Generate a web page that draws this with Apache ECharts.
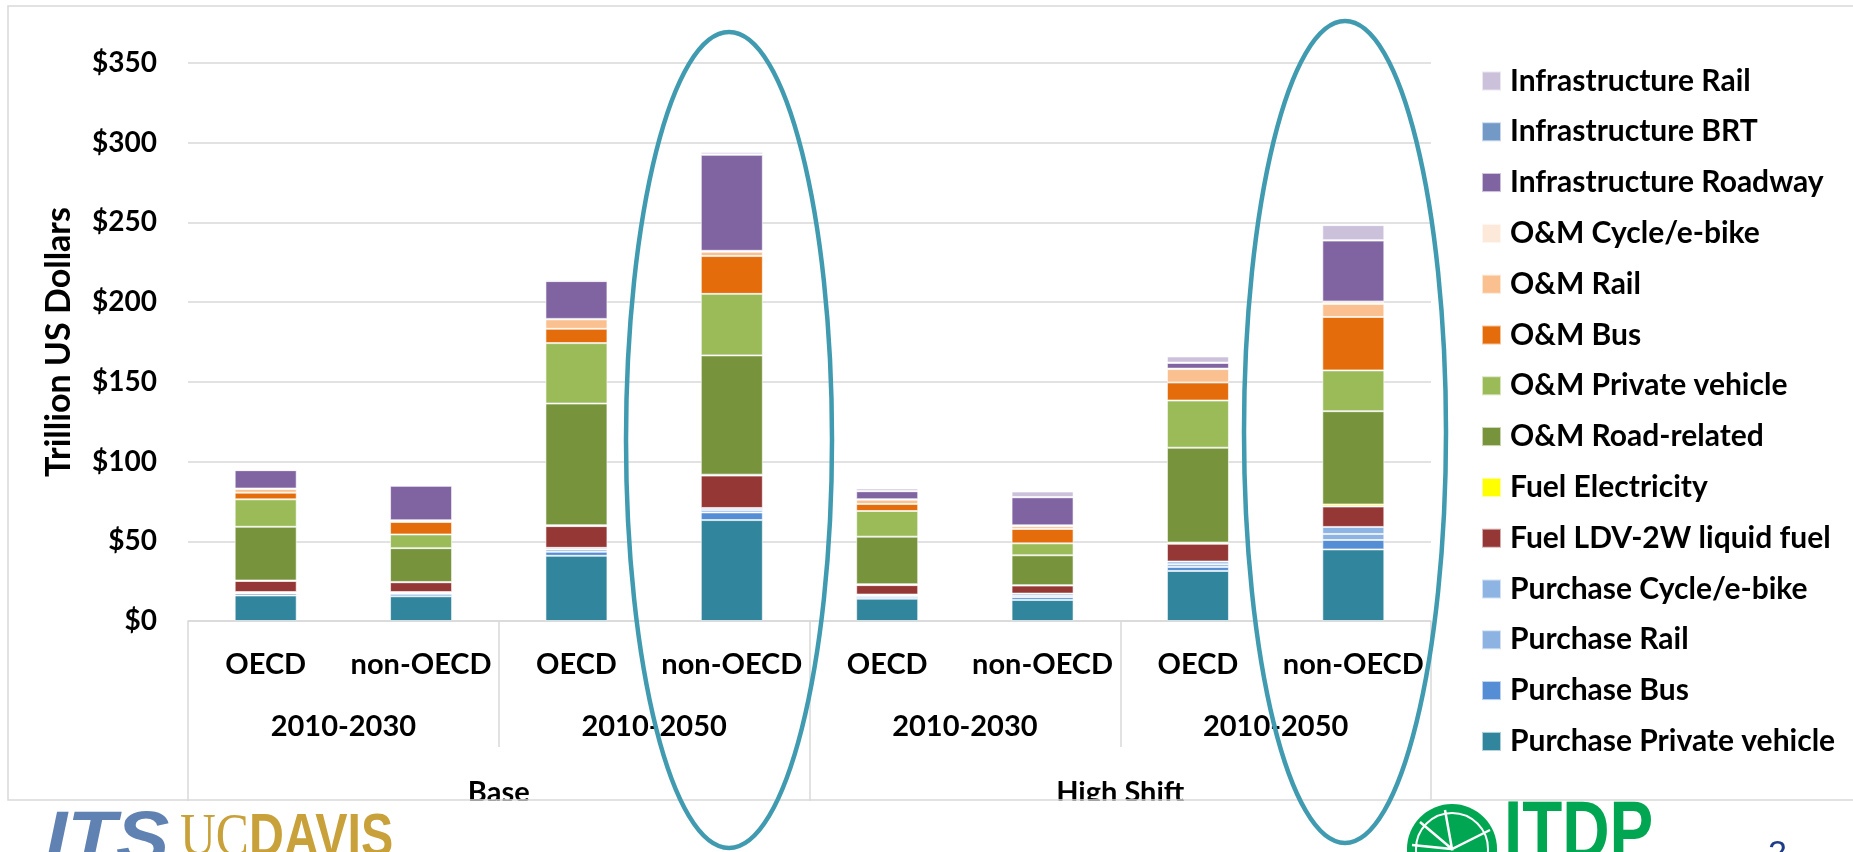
<!DOCTYPE html>
<html>
<head>
<meta charset="utf-8">
<script src="https://cdn.jsdelivr.net/npm/echarts@6/dist/echarts.min.js"></script>
<style>
html, body { margin: 0; padding: 0; background: #fff; }
#main { width: 1853px; height: 852px; }
</style>
</head>
<body>
<div id="main"></div>
<script>
// categories (bottom level first)
var regions = ['OECD', 'non-OECD', 'OECD', 'non-OECD', 'OECD', 'non-OECD', 'OECD', 'non-OECD'];
var periods = ['2010-2030', '2010-2050', '2010-2030', '2010-2050'];
var scenarios = ['Base', 'High Shift'];
var yTicks = [0, 50, 100, 150, 200, 250, 300, 350];

// trillion US$, stacked from the bottom up
var purchasePrivate = [16, 15.5, 40.9, 63.3, 14, 13.2, 31.4, 44.9];
var purchaseBus     = [1.3, 1.5, 2.5, 4.8, 1, 1.7, 2.5, 5.9];
var purchaseRail    = [0.6, 0.6, 1.5, 1.5, 1, 1, 1.7, 3.8];
var purchaseCycle   = [0.3, 0.6, 1, 1.3, 0.6, 1.3, 1.7, 4.4];
var fuelLiquid      = [6.9, 6.1, 13.6, 20.3, 5.9, 5, 11.1, 12.8];
var fuelElectricity = [0.3, 0.2, 0.6, 0.6, 0.6, 0.3, 0.8, 1.3];
var omRoad          = [33.7, 21.2, 76.3, 74.8, 29.8, 18.7, 59.5, 58.5];
var omPrivate       = [17.2, 8.6, 37.9, 38.6, 16.1, 7.5, 29.6, 25.6];
var omBus           = [4.2, 7.8, 9, 23.7, 4.4, 9, 11.3, 33.5];
var omRail          = [2.3, 0.8, 5.9, 2.7, 2.7, 1.7, 8.4, 8.2];
var omCycle         = [0.3, 0.3, 0.3, 0.6, 0.3, 0.6, 0.3, 1.5];
var infraRoad       = [11.5, 21.6, 23.7, 60.2, 5, 17.6, 3.6, 38.2];
var infraBrt        = [0.2, 0.2, 0.2, 0.3, 0.2, 0.2, 0.2, 0.3];
var infraRail       = [0.4, 0.6, 0.8, 1.5, 1.5, 3.4, 3.8, 9.4];

var seriesNames = [
    'Purchase Private vehicle', 'Purchase Bus', 'Purchase Rail', 'Purchase Cycle/e-bike',
    'Fuel LDV-2W liquid fuel', 'Fuel Electricity', 'O&M Road-related', 'O&M Private vehicle',
    'O&M Bus', 'O&M Rail', 'O&M Cycle/e-bike', 'Infrastructure Roadway',
    'Infrastructure BRT', 'Infrastructure Rail'
];
var seriesValues = [
    purchasePrivate, purchaseBus, purchaseRail, purchaseCycle,
    fuelLiquid, fuelElectricity, omRoad, omPrivate,
    omBus, omRail, omCycle, infraRoad,
    infraBrt, infraRail
];
var seriesColors = [
    '#31859c', '#558ed5', '#8db3e2', '#8eb4e3',
    '#953735', '#ffff00', '#77933c', '#9bbb59',
    '#e46c0a', '#fac090', '#fde9d9', '#8064a2',
    '#7399c6', '#ccc1da'
];

var FONT = 'Lato';
var labelStyle = {
    fontFamily: FONT,
    fontWeight: 'bold',
    fontSize: 29,
    color: '#000'
};

var chartDom = document.getElementById('main');
var myChart = echarts.init(chartDom);

var series = [];
for (var i = 0; i < seriesNames.length; i++) {
    series.push({
        name: seriesNames[i],
        type: 'bar',
        stack: 'total',
        barWidth: 62,
        data: seriesValues[i],
        itemStyle: {
            color: seriesColors[i],
            borderColor: 'rgba(255,255,255,0.6)',
            borderWidth: 1
        },
        emphasis: { disabled: true }
    });
}

var option = {
    animation: false,
    backgroundColor: '#fff',
    grid: {
        left: 188,
        right: 422,
        top: 63,
        bottom: 231
    },
    legend: {
        orient: 'vertical',
        left: 1476,
        top: 61,
        icon: 'rect',
        itemWidth: 19,
        itemHeight: 19,
        itemGap: 20.8,
        selectedMode: false,
        data: seriesNames.slice().reverse(),
        textStyle: {
            fontFamily: FONT,
            fontWeight: 'bold',
            fontSize: 30,
            lineHeight: 30,
            color: '#000',
            padding: [0, 0, 0, 4]
        }
    },
    xAxis: [
        {
            type: 'category',
            data: regions,
            position: 'bottom',
            axisLine: { lineStyle: { color: '#d9d9d9', width: 1.5 } },
            axisTick: { show: false },
            axisLabel: Object.assign({ interval: 0, margin: 44, verticalAlign: 'middle' }, labelStyle)
        },
        {
            type: 'category',
            data: periods,
            position: 'bottom',
            axisLine: { show: false },
            axisTick: { show: true, interval: 0, length: 126, lineStyle: { color: '#d9d9d9', width: 1.5 } },
            axisLabel: Object.assign({ interval: 0, margin: 106, verticalAlign: 'middle' }, labelStyle)
        },
        {
            type: 'category',
            data: scenarios,
            position: 'bottom',
            axisLine: { show: false },
            axisTick: { show: true, interval: 0, length: 180, lineStyle: { color: '#d9d9d9', width: 1.5 } },
            axisLabel: Object.assign({ interval: 0, margin: 172, verticalAlign: 'middle' }, labelStyle)
        }
    ],
    yAxis: {
        type: 'value',
        min: yTicks[0],
        max: yTicks[yTicks.length - 1],
        interval: 50,
        name: 'Trillion US Dollars',
        nameLocation: 'middle',
        nameRotate: 90,
        nameGap: 112,
        nameTextStyle: { fontFamily: FONT, fontWeight: 'bold', fontSize: 34, color: '#000' },
        axisLine: { show: false },
        axisTick: { show: false },
        axisLabel: Object.assign({ margin: 31, formatter: '${value}' }, labelStyle, { fontSize: 28 }),
        splitLine: { lineStyle: { color: '#d9d9d9', width: 1.5 } }
    },
    graphic: [
        // chart area border
        { type: 'rect', z: 1, shape: { x: 8, y: 6, width: 1900, height: 794 },
          style: { fill: 'none', stroke: '#d9d9d9', lineWidth: 1.5 } },
        // slide below the chart area (clips the bottom row of labels)
        { type: 'rect', z: 100, shape: { x: 0, y: 801, width: 1853, height: 51 },
          style: { fill: '#fff' } },
        // logos
        { type: 'text', z: 101, x: 45, y: 806, scaleX: 1.08,
          style: { text: 'ITS', fill: '#5f82b2', fontFamily: 'Liberation Sans', fontWeight: 'bold',
                   fontStyle: 'italic', fontSize: 74 } },
        { type: 'text', z: 101, x: 180, y: 808, scaleX: 0.8,
          style: { text: 'UC', fill: '#c9a13b', fontFamily: 'Liberation Serif', fontSize: 62 } },
        { type: 'text', z: 101, x: 249, y: 808, scaleX: 0.78,
          style: { text: 'DAVIS', fill: '#c9a13b', fontFamily: 'Liberation Sans', fontWeight: 'bold', fontSize: 62 } },
        { type: 'circle', z: 101, shape: { cx: 1452, cy: 849, r: 45 }, style: { fill: '#00a651' } },
        { type: 'circle', z: 102, shape: { cx: 1452, cy: 849, r: 36 }, style: { fill: 'none', stroke: '#fff', lineWidth: 2 } },
        { type: 'polyline', z: 102, shape: { points: [[1420, 822], [1452, 849], [1490, 830], [1452, 849], [1445, 810], [1452, 849], [1412, 845]] },
          style: { stroke: '#fff', lineWidth: 2.5, fill: 'none' } },
        { type: 'text', z: 101, x: 1504, y: 794, scaleX: 0.78,
          style: { text: 'ITDP', fill: '#00a651', fontFamily: 'Liberation Sans', fontWeight: 'bold', fontSize: 84 } },
        { type: 'text', z: 101, x: 1768, y: 838,
          style: { text: '2', fill: '#1f3c88', fontFamily: 'Liberation Sans', fontSize: 34 } },
        // highlight ellipses
        { type: 'ellipse', z: 110, shape: { cx: 729, cy: 440, rx: 103, ry: 408 },
          style: { fill: 'none', stroke: '#409bb0', lineWidth: 4.5 } },
        { type: 'ellipse', z: 110, shape: { cx: 1345, cy: 432, rx: 101, ry: 411 },
          style: { fill: 'none', stroke: '#409bb0', lineWidth: 4.5 } }
    ],
    series: series
};

myChart.setOption(option);
</script>
</body>
</html>
